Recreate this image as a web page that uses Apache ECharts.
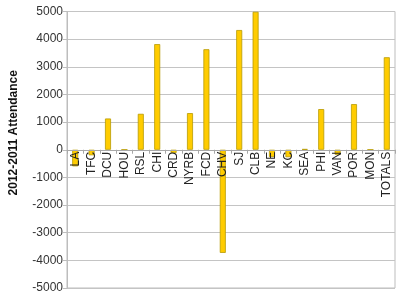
<!DOCTYPE html>
<html>
<head>
<meta charset="utf-8">
<script src="https://cdn.jsdelivr.net/npm/echarts@6/dist/echarts.min.js"></script>
<style>html,body{margin:0;padding:0;background:#fff;}#c{width:400px;height:300px;}</style>
</head>
<body>
<div id="c"></div>
<script>
var categories = ['LA','TFC','DCU','HOU','RSL','CHI','CRD','NYRB','FCD','CHV','SJ','CLB','NE','KC','SEA','PHI','VAN','POR','MON','TOTALS'];
var attendanceDiff = [-600,-200,1130,0,1300,3820,-120,1325,3635,-3730,4330,4990,-265,-270,25,1470,-180,1650,0,3345];
var yTitle = '2012-2011 Attendance';

var chart = echarts.init(document.getElementById('c'), null, {renderer:'canvas'});
var gridTop = 11.5, gridBottom = 12, H = 300;
var zeroOffset = -(H - gridTop - gridBottom) / 2;
chart.setOption({
  animation: false,
  grid: {left: 67, right: 5, top: gridTop, bottom: gridBottom, outerBoundsMode: 'none', containLabel: false, show: true, borderColor: '#bdbdbd', borderWidth: 1},
  xAxis: {
    type: 'category',
    data: categories,
    position: 'bottom',
    offset: zeroOffset,
    z: 5,
    axisLine: {onZero: false, lineStyle: {color: '#a8a8a8'}},
    axisTick: {show: true, length: 4, lineStyle: {color: '#a8a8a8'}},
    axisLabel: {rotate: 90, margin: 2, interval: 0, fontFamily: 'Liberation Sans, Arial', fontSize: 12, color: '#222'}
  },
  yAxis: {
    type: 'value',
    min: -5000, max: 5000, interval: 1000,
    name: yTitle,
    nameLocation: 'middle',
    nameGap: 47,
    nameTextStyle: {fontFamily: 'Liberation Sans, Arial', fontSize: 12, fontWeight: 'bold', color: '#111', padding: [0,0,0,34]},
    axisLine: {show: true, lineStyle: {color: '#bdbdbd'}},
    axisTick: {show: true, length: 4, lineStyle: {color: '#bdbdbd'}},
    axisLabel: {margin: 4, fontFamily: 'Liberation Sans, Arial', fontSize: 12, color: '#333', formatter: function (v) { return String(v); }},
    splitLine: {lineStyle: {color: '#c4c4c4'}}
  },
  series: [{
    type: 'bar',
    data: attendanceDiff,
    barWidth: 6,
    z: 2,
    itemStyle: {color: '#FFCC00', borderColor: '#B89A00', borderWidth: 0.8}
  }]
});
</script>
</body>
</html>
